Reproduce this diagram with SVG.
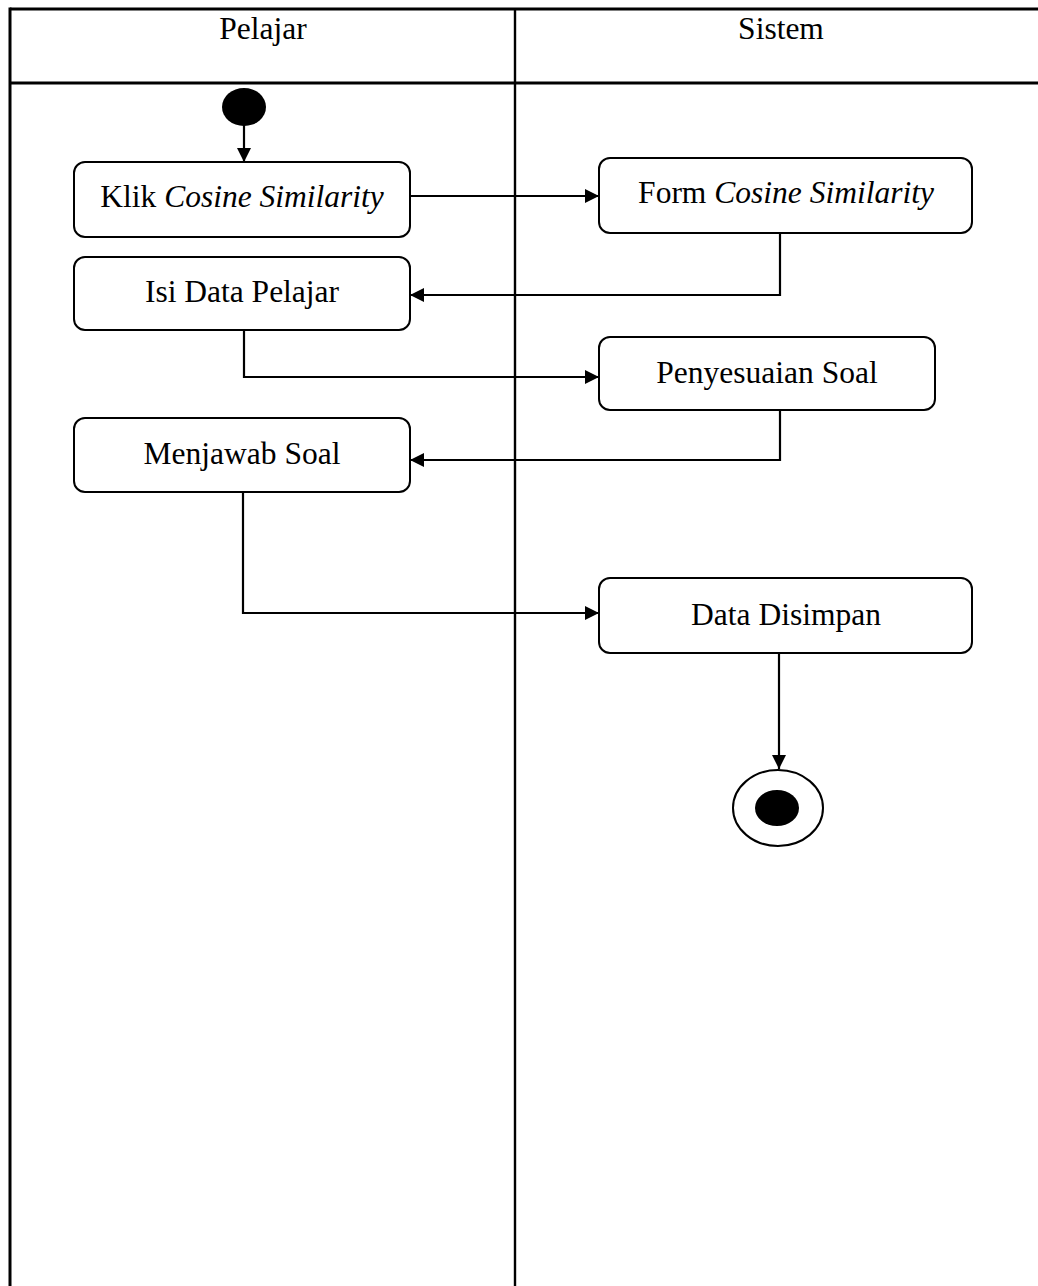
<svg xmlns="http://www.w3.org/2000/svg" width="1038" height="1286" viewBox="0 0 1038 1286">
<style>
.t{font-family:"Liberation Serif","Times New Roman",serif;font-size:31.5px;fill:#000;text-anchor:middle}
.i{font-style:italic}
.box{fill:#fff;stroke:#000;stroke-width:2}
.tbl{stroke:#000;stroke-width:3;fill:none}
.c{stroke:#000;stroke-width:2.2;fill:none}
</style>
<defs>
<marker id="ah" viewBox="0 0 14 14" refX="14" refY="7" markerWidth="14" markerHeight="14" markerUnits="userSpaceOnUse" orient="auto">
<path d="M0,0 L14,7 L0,14 Z" fill="#000"/>
</marker>
</defs>
<rect width="1038" height="1286" fill="#fff"/>
<g id="table">
<line class="tbl" x1="10" y1="9" x2="1038" y2="9"/>
<line class="tbl" x1="10" y1="83" x2="1038" y2="83"/>
<line class="tbl" x1="10" y1="7.5" x2="10" y2="1286"/>
<line class="tbl" x1="515" y1="9" x2="515" y2="1286" style="stroke-width:2.4"/>
<text class="t" x="263" y="39">Pelajar</text>
<text class="t" x="781" y="39">Sistem</text>
</g>
<g id="connectors">
<path class="c" d="M244,125 V162" marker-end="url(#ah)"/>
<path class="c" d="M410,196 H599" marker-end="url(#ah)"/>
<path class="c" d="M780,233 V295 H410" marker-end="url(#ah)"/>
<path class="c" d="M244,330 V377 H599" marker-end="url(#ah)"/>
<path class="c" d="M780,410 V460 H410" marker-end="url(#ah)"/>
<path class="c" d="M243,492 V613 H599" marker-end="url(#ah)"/>
<path class="c" d="M779,653 V769" marker-end="url(#ah)"/>
</g>
<g id="start">
<ellipse cx="244" cy="107" rx="22" ry="19" fill="#000"/>
</g>
<g id="klik">
<rect class="box" x="74" y="162" width="336" height="75" rx="11"/>
<text class="t" x="242" y="207">Klik <tspan class="i">Cosine Similarity</tspan></text>
</g>
<g id="form">
<rect class="box" x="599" y="158" width="373" height="75" rx="11"/>
<text class="t" x="786" y="203">Form <tspan class="i">Cosine Similarity</tspan></text>
</g>
<g id="isi">
<rect class="box" x="74" y="257" width="336" height="73" rx="11"/>
<text class="t" x="242" y="302">Isi Data Pelajar</text>
</g>
<g id="penyesuaian">
<rect class="box" x="599" y="337" width="336" height="73" rx="11"/>
<text class="t" x="767" y="383">Penyesuaian Soal</text>
</g>
<g id="menjawab">
<rect class="box" x="74" y="418" width="336" height="74" rx="11"/>
<text class="t" x="242" y="464">Menjawab Soal</text>
</g>
<g id="disimpan">
<rect class="box" x="599" y="578" width="373" height="75" rx="11"/>
<text class="t" x="786" y="625">Data Disimpan</text>
</g>
<g id="end">
<ellipse cx="778" cy="808" rx="45" ry="38" fill="#fff" stroke="#000" stroke-width="2"/>
<ellipse cx="777" cy="808" rx="22" ry="18" fill="#000"/>
</g>
</svg>
